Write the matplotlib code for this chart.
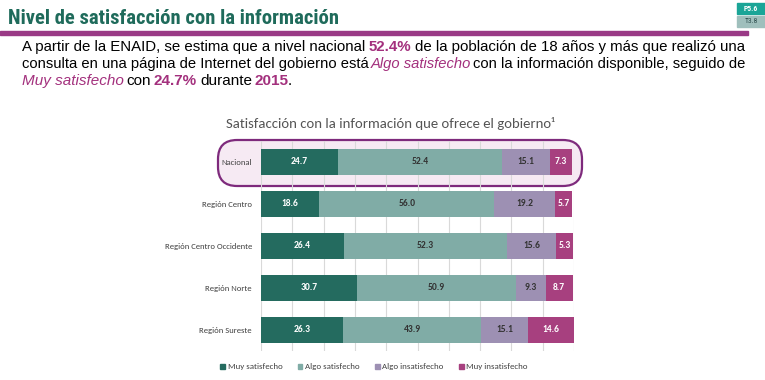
import matplotlib
matplotlib.use("Agg")
import matplotlib.pyplot as plt
from matplotlib.patches import FancyBboxPatch, Rectangle
import numpy as np

# Data
regions = ["Nacional", "Región Centro", "Región Centro Occidente", "Región Norte", "Región Sureste"]
categories = ["Muy satisfecho", "Algo satisfecho", "Algo insatisfecho", "Muy insatisfecho"]
muy_sat = [24.7, 18.6, 26.4, 30.7, 26.3]
algo_sat = [52.4, 56.0, 52.3, 50.9, 43.9]
algo_insat = [15.1, 19.2, 15.6, 9.3, 15.1]
muy_insat = [7.3, 5.7, 5.3, 8.7, 14.6]
series = [muy_sat, algo_sat, algo_insat, muy_insat]

colors = ["#246b5f", "#80aca6", "#9d90b3", "#a7407f"]
text_cols = ["white", "#333333", "#333333", "white"]
magenta = "#a3307d"
CHART_FONT = ["Carlito", "DejaVu Sans"]

W, H = 765, 380
fig = plt.figure(figsize=(W / 100, H / 100), dpi=100)
fig.patch.set_facecolor("white")

def px(x, y):
    return x / W, 1 - y / H

# header
fig.text(*px(8, 18), "Nivel de satisfacción con la información", fontsize=14.9,
         fontweight="bold", color="#1f6b5b", va="center", ha="left",
         family=["Roboto Condensed", "DejaVu Sans"])
fig.add_artist(Rectangle(px(0, 34.5), 748 / W, 3 / H, color="#9a3a86",
                         transform=fig.transFigure))
fig.add_artist(Rectangle(px(737, 14), 28 / W, 11 / H, color="#1aa597",
                         transform=fig.transFigure))
fig.add_artist(Rectangle(px(737, 27), 28 / W, 11 / H, color="#9fbfbc",
                         transform=fig.transFigure))
fig.text(*px(751, 8.5), "P5.6", fontsize=5.5, color="white", fontweight="bold",
         ha="center", va="center", family="Roboto Condensed")
fig.text(*px(751, 21), "T3.8", fontsize=5.5, color="#2f4f4f",
         ha="center", va="center", family="Roboto Condensed")

# paragraph: segments with natural spacing, first two lines stretched to full width
N = dict(color="black")
B = dict(color=magenta, fontweight="bold")
I = dict(color=magenta, fontstyle="italic")
lines = [
    ([("A partir de la ENAID, se estima que a nivel nacional", N), ("52.4%", B),
      ("de la población de 18 años y más que realizó una", N)], True),
    ([("consulta en una página de Internet del gobierno está", N), ("Algo satisfecho", I),
      ("con la información disponible, seguido de", N)], True),
    ([("Muy satisfecho", I), ("con", N), ("24.7%", B), ("durante", N), ("2015", B), ("+.", N)], False),
]
renderer = fig.canvas.get_renderer()
x0, x1 = 22, 745
ys = [47, 64, 81]
fs = 11.0

def layout(segs, size):
    arts, widths = [], []
    for s, st in segs:
        t = fig.text(0, 0, s.lstrip("+"), fontsize=size, family="Liberation Sans",
                     va="center", **st)
        arts.append(t)
        widths.append(t.get_window_extent(renderer).width)
    return arts, widths

for (segs, justify), yy in zip(lines, ys):
    arts, widths = layout(segs, fs)
    sp = 2.8
    if justify:
        total = sum(widths) + 4.3 * (len(segs) - 1)
        size = fs * (x1 - x0) / total
        for a in arts:
            a.remove()
        arts, widths = layout(segs, size)
        sp = (x1 - x0 - sum(widths)) / (len(segs) - 1)
    x = x0
    for k, (t, w) in enumerate(zip(arts, widths)):
        if k > 0:
            x += -1.5 if segs[k][0].startswith("+") else sp
        t.set_position(px(x, yy))
        x += w

# chart title
fig.text(*px(390, 124), "Satisfacción con la información que ofrece el gobierno¹",
         fontsize=10.6, color="#555555", ha="center", va="center", family=CHART_FONT)

# highlight box behind Nacional
bx0, by0, bx1, by1 = 218, 140, 582, 186
fig.add_artist(FancyBboxPatch(px(bx0, by1), (bx1 - bx0) / W, (by1 - by0) / H,
                              boxstyle="round,pad=0,rounding_size=0.025",
                              transform=fig.transFigure, facecolor="#f6eaf3",
                              edgecolor="#7e2a7c", linewidth=1.6, zorder=0,
                              mutation_aspect=W / H))

ax = fig.add_axes([261 / W, 1 - 351 / H, 313 / W, 210 / H])
ax.set_facecolor("none")
ax.set_zorder(1)
y = np.arange(len(regions))
left = np.zeros(len(regions))
for vals, c, tc in zip(series, colors, text_cols):
    vals = np.array(vals)
    ax.barh(y, vals, left=left, height=0.62, color=c, edgecolor="none", zorder=2)
    for yi, l, v in zip(y, left, vals):
        ax.text(l + v / 2, yi, f"{v:.1f}", ha="center", va="center", fontsize=6.8,
                fontweight="bold", color=tc, family=CHART_FONT, zorder=3)
    left += vals

ax.set_xlim(0, 100)
ax.set_ylim(len(regions) - 0.5, -0.5)
ax.set_xticks(np.arange(0, 101, 10))
ax.xaxis.grid(True, color="#d9d9d9", linewidth=0.8, zorder=0)
ax.set_axisbelow(True)
ax.tick_params(axis="x", length=0, labelbottom=False)
ax.tick_params(axis="y", length=0, pad=6.5)
ax.set_yticks(y)
ax.set_yticklabels(regions, fontsize=6.2, color="#404040", family=CHART_FONT)
for s in ax.spines.values():
    s.set_visible(False)

handles = [Rectangle((0, 0), 1, 1, color=c) for c in colors]
fig.legend(handles, categories, loc="center", bbox_to_anchor=px(374, 367), ncol=4,
           frameon=False, handlelength=0.55, handleheight=0.55, handletextpad=0.3,
           columnspacing=1.7, prop=dict(family=CHART_FONT, size=6.4), labelcolor="#404040")

fig.savefig("out.png", dpi=100, facecolor="white")
